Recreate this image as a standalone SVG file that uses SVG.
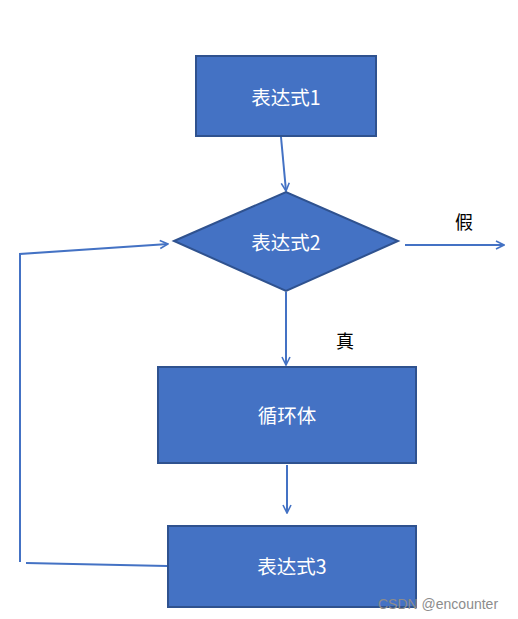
<svg xmlns="http://www.w3.org/2000/svg" width="518" height="619" viewBox="0 0 518 619">
<defs>
<marker id="arr" viewBox="0 0 10 10" refX="9" refY="5" markerWidth="10" markerHeight="10" markerUnits="userSpaceOnUse" orient="auto">
<path d="M1,1 L9,5 L1,9" fill="none" stroke="#4472C4" stroke-width="1.6"/>
</marker>
</defs>
<style>
.node{fill:#4472C4;stroke:#2F528F;stroke-width:2}
.lbl{fill:#ffffff;font-family:"Noto Sans CJK SC","Liberation Sans",sans-serif;font-size:19.5px;text-anchor:middle;dominant-baseline:central}
.edge{fill:none;stroke:#4472C4;stroke-width:2}
.tx{fill:#000;font-family:"Noto Sans CJK SC",sans-serif;font-size:18px;text-anchor:middle;dominant-baseline:central}
</style>
<rect width="518" height="619" fill="#ffffff"/>
<g id="connectors">
<line class="edge" x1="281" y1="137" x2="286" y2="191" marker-end="url(#arr)"/>
<line class="edge" x1="405" y1="245" x2="504" y2="245" marker-end="url(#arr)"/>
<line class="edge" x1="286" y1="292" x2="286" y2="365" marker-end="url(#arr)"/>
<line class="edge" x1="287" y1="465" x2="287" y2="513" marker-end="url(#arr)"/>
<polyline class="edge" points="20,562 20,254 168,244" marker-end="url(#arr)"/>
<line class="edge" x1="26" y1="563" x2="167" y2="566"/>
</g>
<g id="expr1">
<rect class="node" x="196" y="56" width="180" height="80"/>
<text class="lbl" x="286" y="96">表达式1</text>
</g>
<g id="expr2">
<polygon class="node" points="174,241 286,192 398,241 286,291"/>
<text class="lbl" x="286" y="241">表达式2</text>
</g>
<g id="body">
<rect class="node" x="158" y="367" width="258" height="96"/>
<text class="lbl" x="287" y="414">循环体</text>
</g>
<g id="expr3">
<rect class="node" x="168" y="526" width="248" height="81"/>
<text class="lbl" x="292" y="565">表达式3</text>
</g>
<text class="tx" x="464" y="221">假</text>
<text class="tx" x="345" y="340">真</text>
<text x="378" y="609" font-family="Liberation Sans,sans-serif" font-size="14" fill="#8c8c8c">CSDN @encounter</text>
</svg>
